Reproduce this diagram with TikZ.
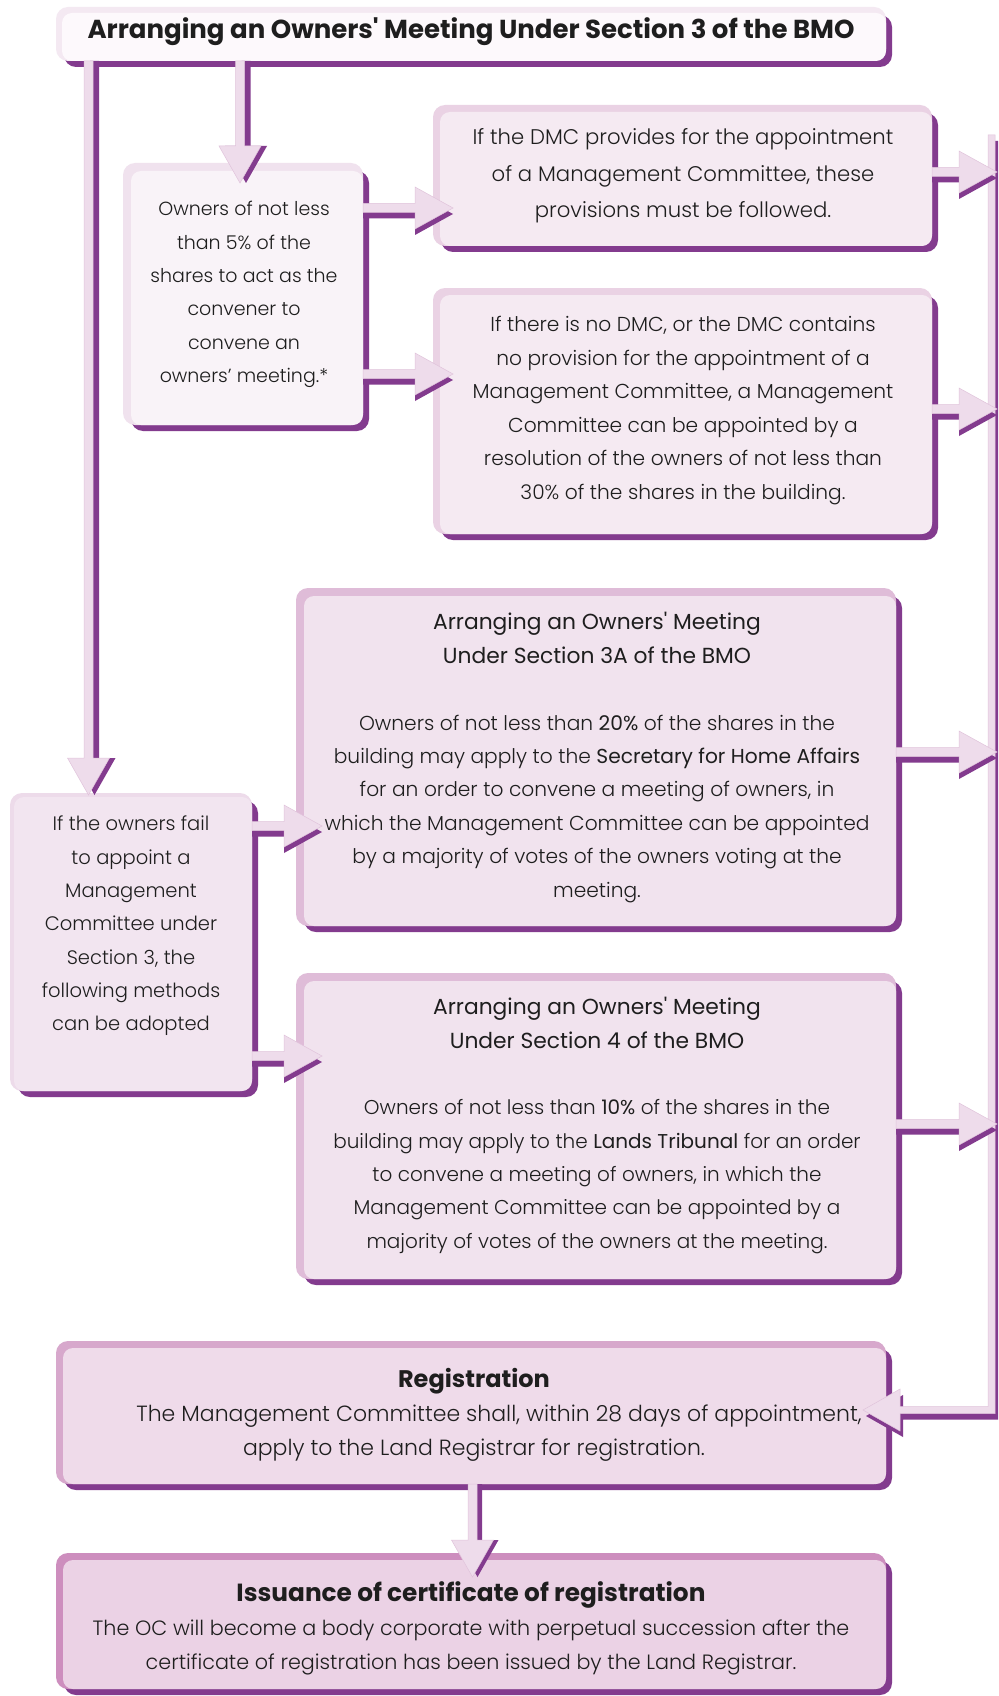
\documentclass[tikz,border=0pt]{standalone}
\usepackage{fontspec}
\IfFontExistsTF{Poppins Light}{\newfontfamily\lightf{Poppins Light}}{\newfontfamily\lightf{Poppins}}
\newfontfamily\regf{Poppins}
\usetikzlibrary{calc}
\definecolor{purp}{HTML}{833B8E}
\definecolor{arrlc}{HTML}{EEDCEB}
\definecolor{arrlinec}{HTML}{E0C3DB}
\definecolor{textc}{HTML}{1E1E1E}
\definecolor{titlef}{HTML}{FDF9FC}\definecolor{titleb}{HTML}{F4E9F2}
\definecolor{bonef}{HTML}{F9F3F8}\definecolor{boneb}{HTML}{F0E2EE}
\definecolor{dmcf}{HTML}{F5EAF2}\definecolor{dmcb}{HTML}{EAD2E4}
\definecolor{secf}{HTML}{F1E3EE}\definecolor{secb}{HTML}{DFBCD8}
\definecolor{lbf}{HTML}{F2E5F0}\definecolor{lbb}{HTML}{EDDBEA}
\definecolor{regf}{HTML}{EFDBEA}\definecolor{regb}{HTML}{D7A8CC}
\definecolor{issf}{HTML}{EBD2E5}\definecolor{issb}{HTML}{CD8EBE}
\pgfdeclarelayer{bg}
\pgfsetlayers{bg,main}
\tikzset{
  boxn/.style={rectangle, inner sep=0pt, outer sep=0pt, anchor=north west},
  txt/.style={align=center, inner sep=0pt, text=textc},
  sh/.style={fill=purp},
  lt/.style={fill=arrlc, draw=arrlinec, line width=0.5pt, line join=miter},
}
% box decoration: #1 node, #2 bevel colour, #3 fill colour, #4 bevel width
\newcommand\boxdeco[4]{%
  \begin{pgfonlayer}{bg}
    \fill[purp, rounded corners=12pt] ($(#1.north west)+(8,8)$) rectangle ($(#1.south east)+(6,6)$);
    \fill[#2, rounded corners=12pt] (#1.north west) rectangle (#1.south east);
    \fill[#3, rounded corners=10pt] ($(#1.north west)+(#4,#4)$) rectangle (#1.south east);
  \end{pgfonlayer}}
% right arrow: #1 from anchor, #2 to anchor, #3 y (px), #4 penetration
\newcommand\rarr[4]{%
  \foreach \sh/\cl in {6pt/sh,0pt/lt}{%
    \path[\cl] let \p1=(#1), \p2=(#2), \p3=(0,#3) in
      (\x1,\y3+4.5pt-\sh) -- (\x2+#4pt-38pt,\y3+4.5pt-\sh) -- (\x2+#4pt-38pt,\y3+21pt-\sh)
      -- (\x2+#4pt,\y3-\sh) -- (\x2+#4pt-38pt,\y3-21pt-\sh) -- (\x2+#4pt-38pt,\y3-4.5pt-\sh)
      -- (\x1,\y3-4.5pt-\sh) -- cycle;}}
% down arrow: #1 from anchor, #2 to anchor, #3 x (px), #4 penetration, #5 shadow dx
\newcommand\darr[5]{%
  \foreach \sh/\cl in {#5pt/sh,0pt/lt}{%
    \path[\cl] let \p1=(#1), \p2=(#2), \p3=(#3,0) in
      (\x3-4.5pt+\sh,\y1) -- (\x3-4.5pt+\sh,\y2-#4pt+37pt) -- (\x3-21pt+\sh,\y2-#4pt+37pt)
      -- (\x3+\sh,\y2-#4pt) -- (\x3+21pt+\sh,\y2-#4pt+37pt) -- (\x3+4.5pt+\sh,\y2-#4pt+37pt)
      -- (\x3+4.5pt+\sh,\y1) -- cycle;}}
% bus arrow: #1 top coordinate, #2 target anchor, #3 y (px), #4 penetration
\newcommand\busarr[4]{%
  \foreach \dx/\dy/\cl in {3pt/6pt/sh,0pt/0pt/lt}{%
    \path[\cl] let \p1=(#1), \p2=(#2), \p3=(0,#3) in
      (\x1-3.5pt+\dx,\y1-\dy) -- (\x1-3.5pt+\dx,\y3+3.5pt-\dy) -- (\x2-#4pt+37pt+\dx,\y3+3.5pt-\dy)
      -- (\x2-#4pt+37pt+\dx,\y3+21pt-\dy) -- (\x2-#4pt+\dx,\y3-\dy) -- (\x2-#4pt+37pt+\dx,\y3-21pt-\dy)
      -- (\x2-#4pt+37pt+\dx,\y3-3.5pt-\dy) -- (\x1+3.5pt+\dx,\y3-3.5pt-\dy) -- (\x1+3.5pt+\dx,\y1-\dy) -- cycle;}}
\begin{document}
\begin{tikzpicture}[x=1pt,y=-1pt]
\useasboundingbox (0,0) rectangle (998,1696);
\begin{pgfonlayer}{bg}
  \fill[white] (0,0) rectangle (998,1696);
\end{pgfonlayer}
% boxes
\node[boxn, minimum width=830pt, minimum height=54pt] (title) at (56,7) {};
\node[boxn, minimum width=240pt, minimum height=262pt] (b1) at (123,163) {};
\node[boxn, minimum width=499pt, minimum height=141pt] (d1) at (433,105) {};
\node[boxn, minimum width=499pt, minimum height=246pt] (d2) at (433,288) {};
\node[boxn, minimum width=600pt, minimum height=338pt] (s3) at (296,588) {};
\node[boxn, minimum width=600pt, minimum height=306pt] (s4) at (296,973) {};
\node[boxn, minimum width=242pt, minimum height=298pt] (lb) at (10,793) {};
\node[boxn, minimum width=830pt, minimum height=143pt] (reg) at (56,1341) {};
\node[boxn, minimum width=830pt, minimum height=136pt] (iss) at (56,1553) {};
\boxdeco{title}{titleb}{titlef}{6}
\boxdeco{b1}{boneb}{bonef}{8}
\boxdeco{d1}{dmcb}{dmcf}{7}
\boxdeco{d2}{dmcb}{dmcf}{7}
\boxdeco{s3}{secb}{secf}{8}
\boxdeco{s4}{secb}{secf}{8}
\boxdeco{lb}{lbb}{lbf}{4}
\boxdeco{reg}{regb}{regf}{7}
\boxdeco{iss}{issb}{issf}{7}
% texts
\node[txt, font={\regf\bfseries\fontsize{26}{30}\selectfont}] (titlet) at (471,32)
  {Arranging an Owners\textquotesingle{} Meeting Under Section 3 of the BMO};
\node[txt, font={\lightf\fontsize{19}{33.4}\selectfont}] (b1t) at (244,294.5)
  {Owners of not less\\than 5\% of the\\shares to act as the\\convener to\\convene an\\owners’ meeting.*};
\node[txt, font={\lightf\fontsize{21.2}{36.5}\selectfont}] (d1t) at (683,176)
  {If the DMC provides for the appointment\\of a Management Committee, these\\provisions must be followed.};
\node[txt, font={\lightf\fontsize{20.2}{33.6}\selectfont}] (d2t) at (683,410.5)
  {If there is no DMC, or the DMC contains\\no provision for the appointment of a\\Management Committee, a Management\\Committee can be appointed by a\\resolution of the owners of not less than\\30\% of the shares in the building.};
\node[txt, font={\lightf\fontsize{20.2}{33.4}\selectfont}] (s3t) at (597,757.5)
  {{\regf\fontsize{21.8}{33.4}\selectfont Arranging an Owners\textquotesingle{} Meeting}\\{\regf\fontsize{21.8}{33.4}\selectfont Under Section 3A of the BMO}\\[33.4pt]
   Owners of not less than {\regf 20\%} of the shares in the\\building may apply to the {\regf Secretary for Home Affairs}\\for an order to convene a meeting of owners, in\\which the Management Committee can be appointed\\by a majority of votes of the owners voting at the\\meeting.};
\node[txt, font={\lightf\fontsize{20}{33.3}\selectfont}] (s4t) at (597,1125.5)
  {{\regf\fontsize{21.8}{33.3}\selectfont Arranging an Owners\textquotesingle{} Meeting}\\{\regf\fontsize{21.8}{33.3}\selectfont Under Section 4 of the BMO}\\[33.3pt]
   Owners of not less than {\regf 10\%} of the shares in the\\building may apply to the {\regf Lands Tribunal} for an order\\to convene a meeting of owners, in which the\\Management Committee can be appointed by a\\majority of votes of the owners at the meeting.};
\node[txt, font={\lightf\fontsize{19.5}{33.3}\selectfont}] (lbt) at (131,926)
  {If the owners fail\\to appoint a\\Management\\Committee under\\Section 3, the\\following methods\\can be adopted};
\node[txt, font={\lightf\fontsize{22}{34}\selectfont}] (regt) at (474,1415)
  {{\regf\bfseries\fontsize{24}{34}\selectfont Registration}\\\hspace*{50pt}The Management Committee shall, within 28 days of appointment,\\apply to the Land Registrar for registration.};
\node[txt, font={\lightf\fontsize{20.7}{34}\selectfont}] (isst) at (471,1628)
  {{\regf\bfseries\fontsize{24.8}{34}\selectfont Issuance of certificate of registration}\\The OC will become a body corporate with perpetual succession after the\\certificate of registration has been issued by the Land Registrar.};
% connectors
\coordinate (busTop) at (991.5,135);
\busarr{busTop}{reg.east}{1410}{23}
\darr{title.south}{b1.north}{240}{20}{6}
\darr{title.south}{lb.north}{88.5}{2}{6}
\rarr{b1.east}{d1.west}{208}{20}
\rarr{b1.east}{d2.west}{374}{20}
\rarr{d1.east}{busTop}{172}{5.5}
\rarr{d2.east}{busTop}{409}{5.5}
\rarr{lb.east}{s3.west}{826}{26}
\rarr{lb.east}{s4.west}{1056}{26}
\rarr{s3.east}{busTop}{752}{5.5}
\rarr{s4.east}{busTop}{1124}{5.5}
\darr{reg.south}{iss.north}{472.5}{24}{5}
\end{tikzpicture}
\end{document}
